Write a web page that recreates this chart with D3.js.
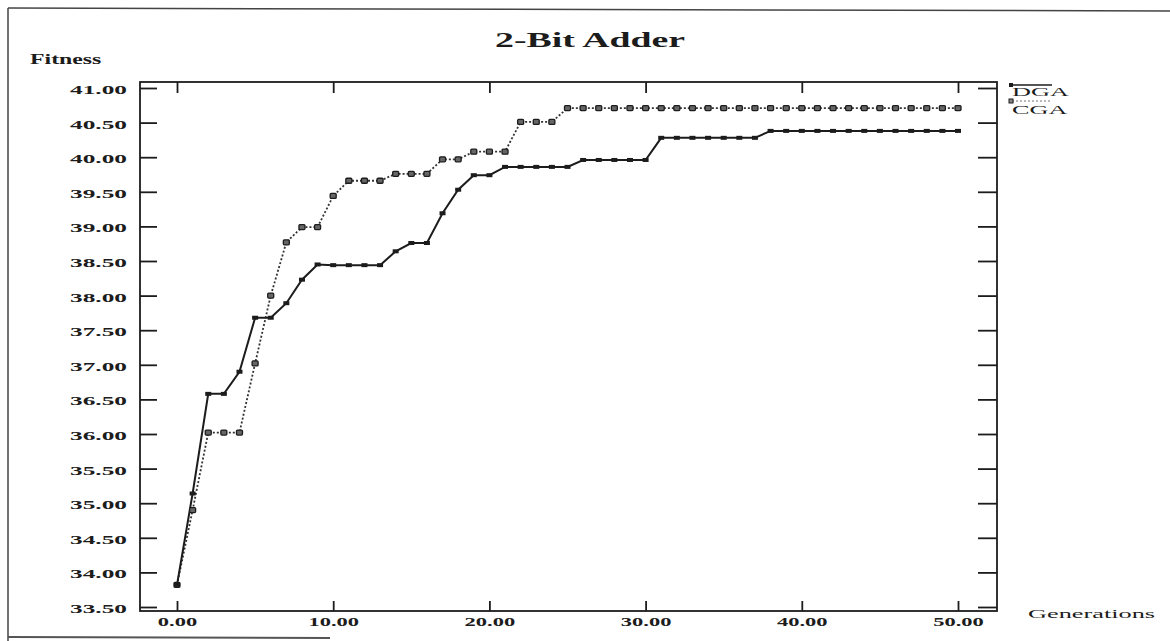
<!DOCTYPE html>
<html>
<head>
<meta charset="utf-8">
<script src="https://cdn.jsdelivr.net/npm/d3@7"></script>
<style>
  body { margin: 0; background: #fff; }
  svg { display: block; }
  text { font-family: "Liberation Serif", "Times New Roman", serif; fill: #1c1c1c; }
</style>
</head>
<body>
<svg id="chart" width="1170" height="641"></svg>
<script>
// generations on the x axis
const generations = [0, 1, 2, 3, 4, 5, 6, 7, 8, 9, 10, 11, 12, 13, 14, 15, 16, 17, 18, 19, 20,
  21, 22, 23, 24, 25, 26, 27, 28, 29, 30, 31, 32, 33, 34, 35, 36, 37, 38, 39, 40,
  41, 42, 43, 44, 45, 46, 47, 48, 49, 50];

// best fitness per generation
const dgaFitness = [33.82, 35.14, 36.58, 36.58, 36.9, 37.68, 37.68, 37.89, 38.23, 38.45,
  38.44, 38.44, 38.44, 38.44, 38.64, 38.76, 38.76, 39.19, 39.53, 39.74,
  39.74, 39.86, 39.86, 39.86, 39.86, 39.86, 39.96, 39.96, 39.96, 39.96,
  39.96, 40.28, 40.28, 40.28, 40.28, 40.28, 40.28, 40.28, 40.38, 40.38,
  40.38, 40.38, 40.38, 40.38, 40.38, 40.38, 40.38, 40.38, 40.38, 40.38, 40.38];

const cgaFitness = [33.82, 34.9, 36.02, 36.02, 36.02, 37.02, 38.0, 38.77, 38.99, 38.99,
  39.44, 39.66, 39.66, 39.66, 39.76, 39.76, 39.76, 39.97, 39.97, 40.08,
  40.08, 40.08, 40.51, 40.51, 40.51, 40.71, 40.71, 40.71, 40.71, 40.71,
  40.71, 40.71, 40.71, 40.71, 40.71, 40.71, 40.71, 40.71, 40.71, 40.71,
  40.71, 40.71, 40.71, 40.71, 40.71, 40.71, 40.71, 40.71, 40.71, 40.71, 40.71];

const xTicks = [0, 10, 20, 30, 40, 50];
const yTicks = [33.5, 34, 34.5, 35, 35.5, 36, 36.5, 37, 37.5, 38, 38.5, 39, 39.5, 40, 40.5, 41];
const seriesNames = ["DGA", "CGA"];

const ink = "#1c1c1c";
const svg = d3.select("#chart");

const box = { left: 140, right: 997, top: 82, bottom: 611 };

const x = d3.scaleLinear().domain([0, 50]).range([177, 958]);
const y = d3.scaleLinear().domain([33.5, 41]).range([607, 88]);

// the scanned figure is stretched sideways, so text gets a horizontal scale
function stretchedText(sel, px, py, sx, size, weight, anchor, str) {
  return sel.append("text")
    .attr("transform", `translate(${px},${py}) scale(${sx},1)`)
    .attr("text-anchor", anchor)
    .attr("font-size", size)
    .attr("font-weight", weight)
    .text(str);
}

// page frame from the scan
svg.append("line").attr("x1", 8).attr("y1", 8).attr("x2", 1170).attr("y2", 11)
  .attr("stroke", "#444").attr("stroke-width", 1.5);
svg.append("line").attr("x1", 8).attr("y1", 8).attr("x2", 8).attr("y2", 641)
  .attr("stroke", "#444").attr("stroke-width", 1.5);
svg.append("line").attr("x1", 8).attr("y1", 637).attr("x2", 330).attr("y2", 638)
  .attr("stroke", "#555").attr("stroke-width", 2);

stretchedText(svg, 590, 47, 1.8, 21, "bold", "middle", "2-Bit Adder");
stretchedText(svg, 30, 64, 1.7, 14, "bold", "start", "Fitness");
stretchedText(svg, 1028, 618, 1.95, 13.5, "normal", "start", "Generations");

// plot box
svg.append("rect")
  .attr("x", box.left).attr("y", box.top)
  .attr("width", box.right - box.left).attr("height", box.bottom - box.top)
  .attr("fill", "none").attr("stroke", ink).attr("stroke-width", 1.8);

const leftAxis = svg.append("g")
  .attr("transform", `translate(${box.left},0)`)
  .call(d3.axisLeft(y).tickValues(yTicks).tickSize(-17).tickFormat(d3.format(".2f")));

const rightAxis = svg.append("g")
  .attr("transform", `translate(${box.right},0)`)
  .call(d3.axisRight(y).tickValues(yTicks).tickSize(-19).tickFormat(""));

const topAxis = svg.append("g")
  .attr("transform", `translate(0,${box.top})`)
  .call(d3.axisTop(x).tickValues(xTicks).tickSize(-11).tickFormat(""));

const bottomAxis = svg.append("g")
  .attr("transform", `translate(0,${box.bottom})`)
  .call(d3.axisBottom(x).tickValues(xTicks).tickSize(-10).tickFormat(d3.format(".2f")));

[leftAxis, rightAxis, topAxis, bottomAxis].forEach((g) => {
  g.select(".domain").remove();
  g.selectAll(".tick line").attr("stroke", ink).attr("stroke-width", 1.8);
});

leftAxis.selectAll(".tick text")
  .attr("x", null).attr("dy", "0.35em")
  .attr("transform", "translate(-13,1) scale(1.95,1)")
  .attr("font-size", 13).attr("font-weight", "bold")
  .attr("font-family", "Liberation Serif, serif").attr("fill", ink);

bottomAxis.selectAll(".tick text")
  .attr("y", null).attr("dy", null)
  .attr("transform", "translate(0,15) scale(1.8,1)")
  .attr("font-size", 12.5).attr("font-weight", "bold")
  .attr("font-family", "Liberation Serif, serif").attr("fill", ink);

// lines
const dgaPoints = generations.map((g, i) => ({ g, v: dgaFitness[i] }));
const cgaPoints = generations.map((g, i) => ({ g, v: cgaFitness[i] }));

const line = d3.line().x((d) => x(d.g)).y((d) => y(d.v));

svg.append("path")
  .datum(cgaPoints)
  .attr("d", line)
  .attr("fill", "none")
  .attr("stroke", "#333")
  .attr("stroke-width", 1.8)
  .attr("stroke-dasharray", "2,2");

svg.append("path")
  .datum(dgaPoints)
  .attr("d", line)
  .attr("fill", "none")
  .attr("stroke", ink)
  .attr("stroke-width", 2);

svg.append("g")
  .selectAll("rect")
  .data(cgaPoints)
  .join("rect")
  .attr("x", (d) => x(d.g) - 3)
  .attr("y", (d) => y(d.v) - 2.5)
  .attr("width", 6)
  .attr("height", 5)
  .attr("rx", 1)
  .attr("fill", "#666")
  .attr("stroke", "#1c1c1c")
  .attr("stroke-width", 1.3);

svg.append("g")
  .selectAll("rect")
  .data(dgaPoints)
  .join("rect")
  .attr("x", (d) => x(d.g) - 3)
  .attr("y", (d) => y(d.v) - 2)
  .attr("width", 6)
  .attr("height", 4)
  .attr("fill", ink);

// legend
const legend = svg.append("g");
legend.append("line").attr("x1", 1011).attr("y1", 85).attr("x2", 1052).attr("y2", 85)
  .attr("stroke", ink).attr("stroke-width", 1.5);
legend.append("rect").attr("x", 1009).attr("y", 83).attr("width", 4).attr("height", 4).attr("fill", ink);
legend.append("line").attr("x1", 1012).attr("y1", 101).attr("x2", 1050).attr("y2", 101)
  .attr("stroke", "#777").attr("stroke-width", 1).attr("stroke-dasharray", "2,2");
legend.append("rect").attr("x", 1009).attr("y", 99).attr("width", 4).attr("height", 4)
  .attr("fill", "#888").attr("stroke", ink).attr("stroke-width", 1);

stretchedText(legend, 1012, 96, 2.1, 12.5, "normal", "start", seriesNames[0]);
stretchedText(legend, 1012, 114, 2.1, 12.5, "normal", "start", seriesNames[1]);
</script>
</body>
</html>
